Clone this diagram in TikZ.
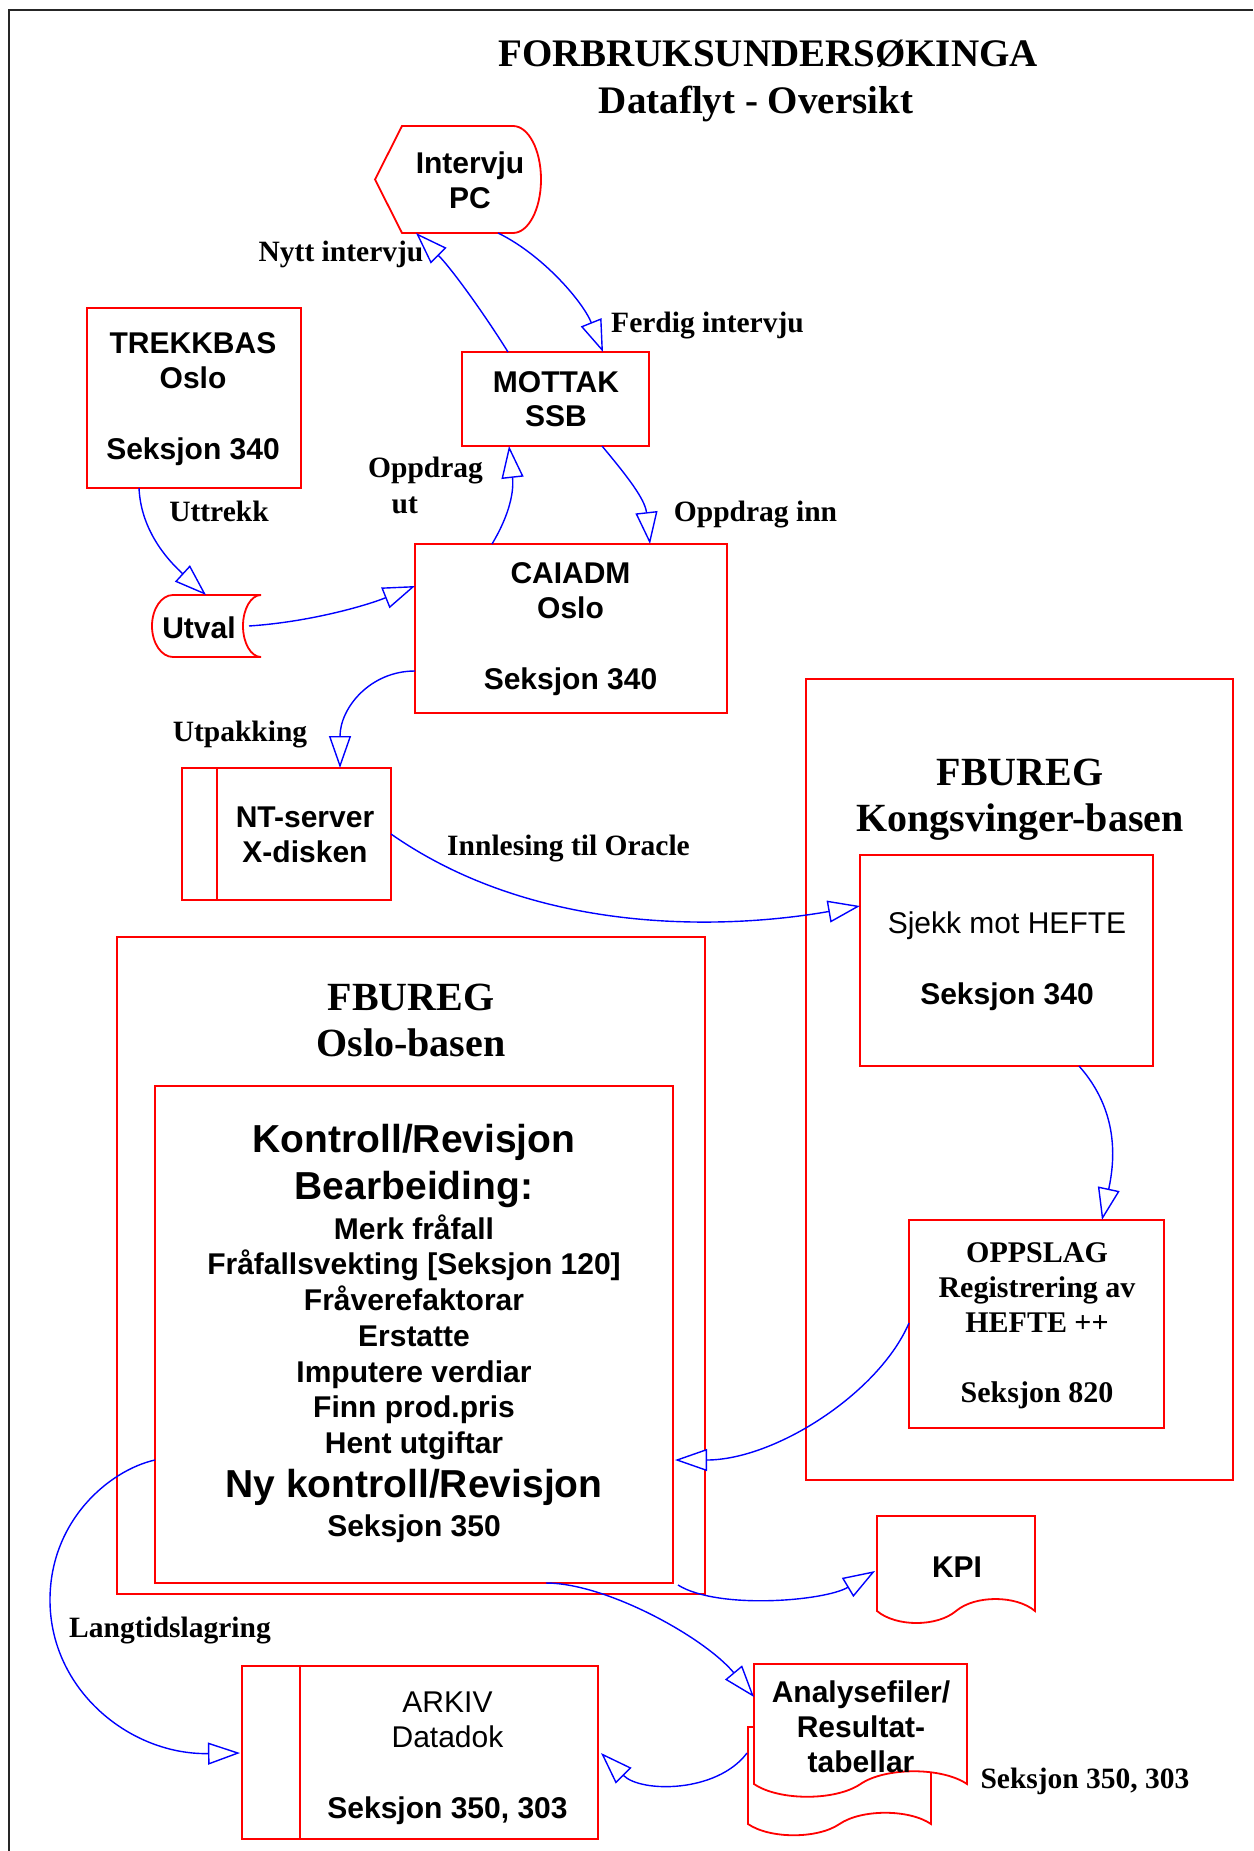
\documentclass[tikz,border=0pt]{standalone}
\usepackage{fontspec}
\setmainfont{Liberation Serif}
\setsansfont{Liberation Sans}
\usetikzlibrary{arrows.meta,calc}

\begin{document}
% keep baselines exact even when big and small lines are mixed
\lineskiplimit=-100pt\relax
\begin{tikzpicture}[
  x=1pt, y=-1pt,
  redbox/.style={draw=red, line width=1.8pt, fill=white, rectangle, inner sep=0pt, outer sep=0pt, anchor=north west},
  redline/.style={draw=red, line width=1.8pt, fill=white},
  divider/.style={draw=red, line width=1.8pt},
  anchorbox/.style={rectangle, inner sep=0pt, outer sep=0pt, anchor=north west},
  flow/.style={draw=blue, line width=1.4pt, -{Triangle[length=32pt, width=22pt, fill=white]}},
  boxtext/.style={font=\sffamily\bfseries\fontsize{30}{35.5}\selectfont, align=center, anchor=north, inner sep=0pt},
  plaintext/.style={font=\sffamily\fontsize{30}{35.5}\selectfont, align=center, anchor=north, inner sep=0pt},
  sansline/.style={font=\sffamily\bfseries\fontsize{30}{36}\selectfont, inner sep=0pt, anchor=base},
  serifbox/.style={font=\bfseries\fontsize{30}{35}\selectfont, align=center, anchor=north, inner sep=0pt},
  heading/.style={font=\bfseries\fontsize{40}{46}\selectfont, align=center, anchor=north, inner sep=0pt},
  maintitle/.style={font=\bfseries\fontsize{39}{47}\selectfont, inner sep=0pt, anchor=base},
  lbl/.style={font=\bfseries\fontsize{29.5}{36}\selectfont, inner sep=0pt, anchor=base},
  outerframe/.style={draw=black!85, line width=2.4pt},
]
\useasboundingbox (0,0) rectangle (1253,1851);
\draw[outerframe] (9,1851) -- (9,10) -- (1253,10);

% ---------- title ----------
\node[maintitle] (title1) at (768,67) {FORBRUKSUNDERSØKINGA};
\node[maintitle] (title2) at (756,114) {Dataflyt - Oversikt};

% ---------- Intervju PC (display shape) ----------
\node[anchorbox, minimum width=166pt, minimum height=107pt] (ipc) at (375,126) {};
\draw[redline] (ipc.west) -- ($(ipc.north west)+(27,0)$) -- ($(ipc.north east)+(-28,0)$)
  .. controls +(15.5,0) and +(0,-29.5) .. (ipc.east)
  .. controls +(0,29.5) and +(15.5,0) .. ($(ipc.south east)+(-28,0)$)
  -- ($(ipc.south west)+(27,0)$) -- cycle;
\node[boxtext, font=\sffamily\bfseries\fontsize{30}{35}\selectfont] (ipc-txt) at (470,148) {\rule{0pt}{25pt}Intervju\\PC};

% ---------- MOTTAK ----------
\node[redbox, minimum width=187pt, minimum height=94pt] (mottak) at (462,352) {};
\node[boxtext, font=\sffamily\bfseries\fontsize{30}{34.5}\selectfont] (mottak-txt) at (556,367) {\rule{0pt}{25pt}MOTTAK\\SSB};

% ---------- TREKKBAS ----------
\node[redbox, minimum width=214pt, minimum height=180pt] (trekk) at (87,308) {};
\node[boxtext] (trekk-txt) at (193,328) {\rule{0pt}{25pt}TREKKBAS\\Oslo\\[35.5pt]Seksjon 340};

% ---------- Utval (stored data) ----------
\node[anchorbox, minimum width=109pt, minimum height=62pt] (utval) at (152,595) {};
\draw[redline] (utval.north east) -- ($(utval.north west)+(21,0)$)
  .. controls +(-11.6,0) and +(0,-17.1) .. (utval.west)
  .. controls +(0,17.1) and +(-11.6,0) .. ($(utval.south west)+(21,0)$)
  -- (utval.south east)
  .. controls +(-10,0) and +(0,17.1) .. ($(utval.east)+(-18,0)$)
  .. controls +(0,-17.1) and +(-10,0) .. (utval.north east) -- cycle;
\node[sansline] (utval-txt) at (199,638) {Utval};

% ---------- CAIADM ----------
\node[redbox, minimum width=312pt, minimum height=169pt] (caiadm) at (415,544) {};
\node[boxtext] (caiadm-txt) at (570.5,558) {\rule{0pt}{25pt}CAIADM\\Oslo\\[35.5pt]Seksjon 340};

% ---------- NT-server ----------
\node[redbox, minimum width=209pt, minimum height=132pt] (nt) at (182,768) {};
\draw[divider] ($(nt.north west)+(35,0)$) -- ($(nt.south west)+(35,0)$);
\node[boxtext] (nt-txt) at (305,802) {\rule{0pt}{25pt}NT-server\\X-disken};

% ---------- FBUREG Kongsvinger-basen ----------
\node[redbox, minimum width=427pt, minimum height=801pt] (kong) at (806,679) {};
\node[heading] (kong-txt) at (1020,753.5) {\rule{0pt}{32pt}FBUREG\\Kongsvinger-basen};
\node[redbox, minimum width=293pt, minimum height=211pt] (sjekk) at (860,855) {};
\node[plaintext] (sjekk-txt) at (1007,908) {\rule{0pt}{25pt}Sjekk mot HEFTE\\[36pt]\textbf{Seksjon 340}};
\node[redbox, minimum width=255pt, minimum height=208pt] (opp) at (909,1220) {};
\node[serifbox] (opp-txt) at (1037,1237) {\rule{0pt}{25pt}OPPSLAG\\Registrering av\\HEFTE ++\\[35pt]Seksjon 820};

% ---------- FBUREG Oslo-basen ----------
\node[redbox, minimum width=588pt, minimum height=657pt] (oslo) at (117,937) {};
\node[heading] (oslo-txt) at (411,978) {\rule{0pt}{32pt}FBUREG\\Oslo-basen};
\node[redbox, minimum width=518pt, minimum height=497pt] (kontroll) at (155,1086) {};
\node[boxtext, font=\sffamily\bfseries\fontsize{30}{35.75}\selectfont] (kontroll-txt) at (414,1120) {%
  \rule{0pt}{32pt}{\fontsize{39}{36}\selectfont Kontroll/Revisjon}\\[11.25pt]
  {\fontsize{39}{36}\selectfont Bearbeiding:}\\[4.25pt]
  Merk fråfall\\
  Fråfallsvekting [Seksjon 120]\\
  Fråverefaktorar\\
  Erstatte\\
  Imputere verdiar\\
  Finn prod.pris\\
  Hent utgiftar\\[8.5pt]
  {\fontsize{39}{36}\selectfont Ny kontroll/Revisjon}\\[3.25pt]
  Seksjon 350};

% ---------- ARKIV ----------
\node[redbox, minimum width=356pt, minimum height=173pt] (arkiv) at (242,1666) {};
\draw[divider] ($(arkiv.north west)+(58,0)$) -- ($(arkiv.south west)+(58,0)$);
\node[plaintext] (arkiv-txt) at (447.5,1687) {\rule{0pt}{25pt}ARKIV\\Datadok\\[35.5pt]\textbf{Seksjon 350, 303}};

% ---------- KPI (document) ----------
\node[anchorbox, minimum width=158pt, minimum height=95pt] (kpi) at (877,1516) {};
\draw[redline] (kpi.south west) -- (kpi.north west) -- (kpi.north east) -- (kpi.south east)
  .. controls +(-19,-16) and +(19,-16) .. (kpi.south)
  .. controls +(-19,16) and +(19,16) .. (kpi.south west) -- cycle;
\node[sansline] (kpi-txt) at (957,1577) {KPI};

% ---------- Analysefiler (stacked documents) ----------
\node[anchorbox, minimum width=183pt, minimum height=97pt] (ana-back) at (748,1727) {};
\draw[redline] (ana-back.south west) -- (ana-back.north west) -- (ana-back.north east) -- (ana-back.south east)
  .. controls +(-22,-15) and +(22,-15) .. (ana-back.south)
  .. controls +(-22,15) and +(22,15) .. (ana-back.south west) -- cycle;
\node[anchorbox, minimum width=213pt, minimum height=120pt] (ana) at (754,1664) {};
\draw[redline] (ana.south west) -- (ana.north west) -- (ana.north east) -- (ana.south east)
  .. controls +(-25,-17) and +(25,-17) .. (ana.south)
  .. controls +(-25,17) and +(25,17) .. (ana.south west) -- cycle;
\node[boxtext, font=\sffamily\bfseries\fontsize{30}{35}\selectfont] (ana-txt) at (861,1677) {\rule{0pt}{25pt}Analysefiler/\\Resultat-\\tabellar};
\node[lbl] (ana-sek) at (1085,1788) {Seksjon 350, 303};

% ---------- connectors ----------
\draw[flow] ($(mottak.north west)+(46,0)$) .. controls +(-25,-40) and +(35,35) .. ($(ipc.south west)+(41,0)$);
\draw[flow] ($(ipc.south west)+(123,0)$) .. controls +(45,22) and +(-20,-50) .. ($(mottak.north west)+(141,0)$);
\draw[flow] ($(trekk.south west)+(52,0)$) .. controls +(2,45) and +(-35,-32) .. ($(utval.north west)+(54,0)$);
\draw[flow] ($(utval.east)+(-12,0)$) .. controls +(60,-4) and +(-50,20) .. ($(caiadm.north west)+(0,42)$);
\draw[flow] ($(caiadm.north west)+(0,127)$) .. controls +(-45,0) and +(0,-60) .. ($(nt.north west)+(158,0)$);
\draw[flow] ($(caiadm.north west)+(77,0)$) .. controls +(18,-30) and +(5,45) .. ($(mottak.south west)+(47,0)$);
\draw[flow] ($(mottak.south west)+(140,0)$) .. controls +(25,30) and +(-5,-45) .. ($(caiadm.north west)+(235,0)$);
\draw[flow] (nt.east) .. controls +(150,105) and +(-125,22) .. ($(sjekk.north west)+(0,51)$);
\draw[flow] ($(sjekk.south west)+(219,0)$) .. controls +(40,45) and +(13,-60) .. ($(opp.north west)+(193,0)$);
\draw[flow] ($(opp.north west)+(0,103)$) .. controls +(-30,70) and +(100,0) .. ($(kontroll.north east)+(2,374)$);
\draw[flow] ($(kontroll.south east)+(5,2)$) .. controls +(40,25) and +(-50,30) .. ($(kpi.north west)+(-2,55)$);
\draw[flow] ($(kontroll.south west)+(391,0)$) .. controls +(60,0) and +(-50,-60) .. ($(ana.north west)+(0,33)$);
\draw[flow] ($(ana-back.north west)+(-1,26)$) .. controls +(-30,40) and +(40,40) .. ($(arkiv.north east)+(3,87)$);
\coordinate (bendL) at (50,1600);
\draw[flow] ($(kontroll.north west)+(0,374)$) .. controls +(-45,10) and +(0,-80) .. (bendL)
  .. controls +(0,90) and +(-110,2) .. ($(arkiv.north west)+(-2,87)$);

% ---------- connector labels ----------
\node[lbl] (l-nytt) at (341,262) {Nytt intervju};
\node[lbl] (l-ferdig) at (707.5,332) {Ferdig intervju};
\node[lbl] (l-uttrekk) at (219,521) {Uttrekk};
\node[lbl, anchor=north west, align=left] (l-oppdragut) at (368,452) {\rule{0pt}{25pt}Oppdrag\\\hspace*{23.5pt}ut};
\node[lbl] (l-oppdraginn) at (755.5,521) {Oppdrag inn};
\node[lbl] (l-utpakking) at (240,741) {Utpakking};
\node[lbl] (l-innlesing) at (568.5,855) {Innlesing til Oracle};
\node[lbl] (l-lang) at (170,1637) {Langtidslagring};
\end{tikzpicture}
\end{document}
